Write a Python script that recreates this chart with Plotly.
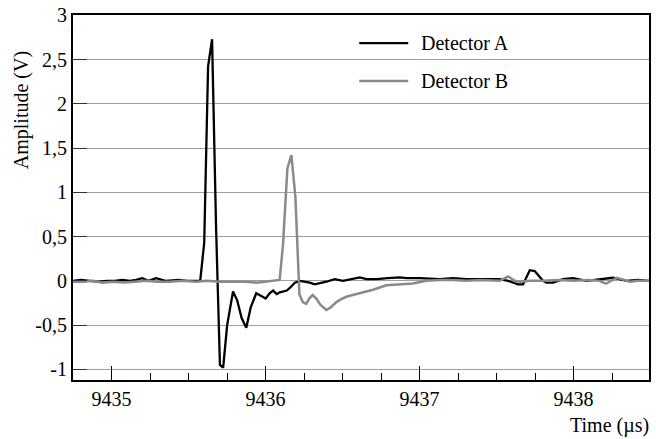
import plotly.graph_objects as go

# ---------------- data ----------------
time_a = [9434.75, 9434.80, 9434.86, 9434.92, 9434.97, 9435.02, 9435.07, 9435.12,
          9435.16, 9435.20, 9435.24, 9435.29, 9435.35, 9435.40, 9435.44, 9435.49,
          9435.52, 9435.576, 9435.602, 9435.627, 9435.653, 9435.679, 9435.704, 9435.725,
          9435.751, 9435.789, 9435.816, 9435.845, 9435.875, 9435.904, 9435.940, 9435.969,
          9436.001, 9436.027, 9436.049, 9436.073, 9436.092, 9436.118, 9436.138, 9436.164,
          9436.190, 9436.222, 9436.255, 9436.287, 9436.320, 9436.352, 9436.395, 9436.449,
          9436.503, 9436.558, 9436.612, 9436.655, 9436.720, 9436.795, 9436.871, 9436.915,
          9437.001, 9437.131, 9437.216, 9437.305, 9437.391, 9437.521, 9437.575, 9437.640,
          9437.672, 9437.716, 9437.748, 9437.802, 9437.824, 9437.867, 9437.932, 9437.997,
          9438.084, 9438.170, 9438.256, 9438.344, 9438.42, 9438.49]
amp_a = [0.00, 0.01, 0.00, -0.01, 0.00, 0.00, 0.01, 0.00,
         0.01, 0.03, 0.00, 0.03, 0.00, 0.01, 0.01, 0.00,
         0.00, 0.00, 0.43, 2.42, 2.73, 0.60, -0.95, -0.98,
         -0.50, -0.12, -0.22, -0.42, -0.53, -0.30, -0.14, -0.17,
         -0.20, -0.14, -0.11, -0.15, -0.13, -0.12, -0.11, -0.07,
         -0.02, 0.00, -0.01, -0.02, -0.04, -0.03, -0.01, 0.02,
         0.00, 0.02, 0.04, 0.02, 0.02, 0.03, 0.04, 0.03,
         0.03, 0.02, 0.03, 0.02, 0.02, 0.02, 0.00, -0.04,
         -0.04, 0.12, 0.11, 0.00, -0.02, -0.02, 0.02, 0.03,
         0.00, 0.02, 0.035, 0.00, 0.01, 0.00]

time_b = [9434.75, 9434.82, 9434.88, 9434.94, 9435.01, 9435.08, 9435.15, 9435.22,
          9435.30, 9435.38, 9435.46, 9435.55, 9435.62, 9435.70, 9435.78, 9435.86,
          9435.94, 9436.00, 9436.06, 9436.092, 9436.114, 9436.142, 9436.168, 9436.194,
          9436.220, 9436.242, 9436.264, 9436.284, 9436.306, 9436.330, 9436.356, 9436.395,
          9436.423, 9436.460, 9436.488, 9436.525, 9436.566, 9436.612, 9436.698, 9436.785,
          9436.871, 9436.956, 9437.045, 9437.131, 9437.216, 9437.305, 9437.391, 9437.521,
          9437.575, 9437.618, 9437.65, 9437.72, 9437.80, 9437.90, 9438.00, 9438.10,
          9438.170, 9438.192, 9438.214, 9438.279, 9438.312, 9438.366, 9438.42, 9438.49]
amp_b = [-0.01, -0.01, 0.00, -0.02, -0.01, -0.02, -0.01, 0.00,
         -0.01, -0.01, 0.00, -0.01, 0.00, -0.01, -0.01, -0.01,
         -0.02, -0.01, 0.00, 0.01, 0.42, 1.27, 1.42, 0.95,
         -0.15, -0.24, -0.26, -0.20, -0.16, -0.20, -0.27, -0.33,
         -0.30, -0.24, -0.21, -0.18, -0.16, -0.14, -0.10, -0.05,
         -0.04, -0.03, 0.00, 0.01, 0.01, 0.00, 0.01, 0.00,
         0.05, 0.00, -0.01, 0.00, 0.00, 0.01, 0.00, 0.01,
         0.00, -0.02, -0.03, 0.035, 0.02, -0.01, 0.00, 0.00]

series_names = ["Detector A", "Detector B"]
x_tick_vals = [9435, 9436, 9437, 9438]
y_tick_vals = [-1, -0.5, 0, 0.5, 1, 1.5, 2, 2.5, 3]
y_tick_text = ["-1", "-0,5", "0", "0,5", "1", "1,5", "2", "2,5", "3"]
x_title = "Time (µs)"
y_title = "Amplitude (V)"

# ---------------- styling ----------------
FONT = "Liberation Serif"
COL_A = "#000000"
COL_B = "#8a8a8a"

fig = go.Figure()
fig.add_trace(go.Scatter(x=time_a, y=amp_a, mode="lines", name=series_names[0],
                         line=dict(color=COL_A, width=2.3), showlegend=False))
fig.add_trace(go.Scatter(x=time_b, y=amp_b, mode="lines", name=series_names[1],
                         line=dict(color=COL_B, width=2.5), showlegend=False))

fig.update_layout(
    width=656, height=439,
    margin=dict(l=73, r=7, t=15, b=59),
    paper_bgcolor="white", plot_bgcolor="white",
    font=dict(family=FONT, size=20, color="black"),
    showlegend=False,
)

fig.update_xaxes(
    range=[9434.75, 9438.49],
    tickvals=x_tick_vals,
    ticks="inside", ticklen=14, tickwidth=1.2, tickcolor="black",
    minor=dict(dtick=0.25, tick0=9435, ticks="inside", ticklen=7, tickwidth=1.2,
               tickcolor="black", showgrid=False),
    showgrid=False, zeroline=False,
    showline=True, linecolor="black", linewidth=2, mirror=True,
    automargin=False, ticklabeloverflow="allow",
    tickfont=dict(family=FONT, size=20, color="black"),
)
fig.update_yaxes(
    range=[-1.12, 3.003],
    tickvals=y_tick_vals, ticktext=y_tick_text,
    ticks="inside", ticklen=14, tickwidth=1.2, tickcolor="#333333",
    showgrid=True, gridcolor="#a0a0a0", gridwidth=1.3, zeroline=False,
    showline=True, linecolor="black", linewidth=2, mirror=True,
    automargin=False, ticklabeloverflow="allow",
    tickfont=dict(family=FONT, size=20, color="black"),
)

# axis titles
fig.add_annotation(text=y_title, xref="paper", yref="paper", x=-0.088, y=0.74,
                   textangle=-90, showarrow=False, xanchor="center", yanchor="middle",
                   font=dict(family=FONT, size=20, color="black"))
fig.add_annotation(text=x_title, xref="paper", yref="paper", x=1.003, y=-0.125,
                   showarrow=False, xanchor="right", yanchor="middle",
                   font=dict(family=FONT, size=20, color="black"))

# legend keys
legend_y = [0.923, 0.819]
legend_cols = [COL_A, COL_B]
legend_w = [2.3, 2.5]
for name, ly, col, w in zip(series_names, legend_y, legend_cols, legend_w):
    fig.add_shape(type="line", xref="paper", yref="paper", x0=0.497, x1=0.582,
                  y0=ly, y1=ly, line=dict(color=col, width=w))
    fig.add_annotation(text=name, xref="paper", yref="paper", x=0.601, y=ly,
                       showarrow=False, xanchor="left", yanchor="middle",
                       font=dict(family=FONT, size=20, color="black"))

# remove the page's default 8px body margin so the figure fills the window exactly
fig.write_html("out.html", config={"displayModeBar": False},
               post_script="document.body.style.margin='0';")
